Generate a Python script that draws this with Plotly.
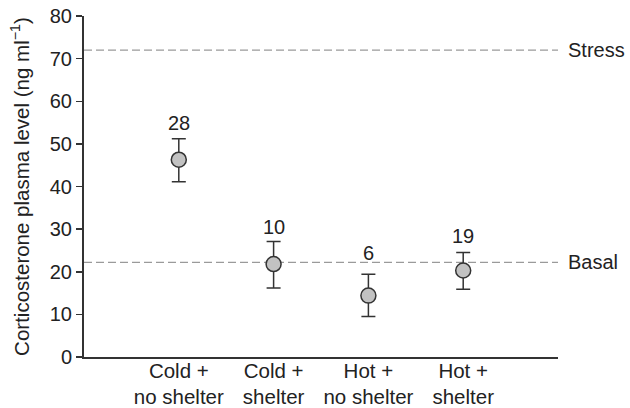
import plotly.graph_objects as go

categories = ["Cold +<br>no shelter", "Cold +<br>shelter", "Hot +<br>no shelter", "Hot +<br>shelter"]
means = [46.3, 21.8, 14.4, 20.3]
err_plus = [4.9, 5.3, 5.0, 4.2]
err_minus = [5.2, 5.6, 4.9, 4.4]
n_labels = ["28", "10", "6", "19"]
label_y = [54.8, 30.4, 24.3, 28.5]
ref_names = ["Stress", "Basal"]
ref_values = [72.0, 22.2]
y_ticks = [0, 10, 20, 30, 40, 50, 60, 70, 80]

xpos = list(range(len(categories)))
FONT = "Liberation Sans, Arial, sans-serif"
TXT = "#222"

fig = go.Figure()

for name, v in zip(ref_names, ref_values):
    fig.add_shape(type="line", xref="x", yref="y", x0=-1, x1=4, y0=v, y1=v,
                  line=dict(color="#9a9a9a", width=1.2, dash="8px,4px"), layer="below")
    fig.add_annotation(x=4, y=v, xref="x", yref="y", text=name, showarrow=False,
                       xanchor="left", xshift=8, font=dict(size=20, color=TXT, family=FONT))

fig.add_trace(go.Scatter(
    x=xpos, y=means, mode="markers",
    marker=dict(size=15, color="#c2c2c2", line=dict(color="#333", width=1.5)),
    error_y=dict(type="data", symmetric=False, array=err_plus, arrayminus=err_minus,
                 color="#333", thickness=1.5, width=7),
    showlegend=False, hoverinfo="skip",
))

for x, t, ly in zip(xpos, n_labels, label_y):
    fig.add_annotation(x=x, y=ly, xref="x", yref="y", text=t, showarrow=False,
                       font=dict(size=20, color=TXT, family=FONT))

fig.update_layout(
    width=630, height=408,
    margin=dict(l=84, r=72, t=16, b=51, autoexpand=False),
    plot_bgcolor="white", paper_bgcolor="white",
    font=dict(family=FONT, color=TXT),
    xaxis=dict(range=[-1, 4], tickmode="array", tickvals=xpos, ticktext=categories,
               showline=True, linecolor="#333", linewidth=2, ticks="", showgrid=False,
               zeroline=False, tickfont=dict(size=20.5, color=TXT), automargin=False,
               ticklabelstandoff=-6, ticklabeloverflow="allow", fixedrange=True),
    yaxis=dict(range=[0, 80], tickmode="array", tickvals=y_ticks,
               showline=True, linecolor="#333", linewidth=2, ticks="outside",
               ticklen=6, tickwidth=1.5, tickcolor="#333", showgrid=False, zeroline=False,
               tickfont=dict(size=20, color=TXT), automargin=False,
               ticklabeloverflow="allow", fixedrange=True,
               title=dict(text="Corticosterone plasma level (ng ml<sup>−1</sup>)",
                          font=dict(size=20.5, color=TXT))),
)

fig.write_html("out.html",
               config={"displayModeBar": False, "staticPlot": True},
               post_script="document.body.style.margin='0';document.body.style.padding='0';")
